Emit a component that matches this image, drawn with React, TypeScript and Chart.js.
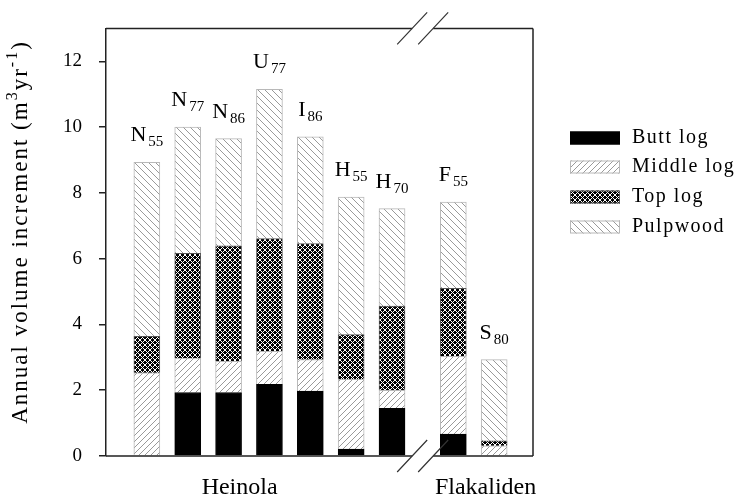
import { useEffect, useRef } from 'react';
import { Chart, registerables } from 'chart.js';
Chart.register(...registerables);

const siteLetters = ['N', 'N', 'N', 'U', 'I', 'H', 'H', 'F', 'S'];
const siteSubscripts = ['55', '77', '86', '77', '86', '55', '70', '55', '80'];
const sitePositions = [1, 2, 3, 4, 5, 6, 7, 8.5, 9.5];
const buttLog = [0, 1.93, 1.93, 2.18, 1.97, 0.21, 1.45, 0.67, 0];
const middleLog = [2.53, 1.05, 0.95, 1.0, 0.96, 2.12, 0.55, 2.36, 0.31];
const topLog = [1.11, 3.18, 3.51, 3.43, 3.53, 1.36, 2.56, 2.07, 0.15];
const pulpwood = [5.29, 3.84, 3.26, 4.54, 3.24, 4.18, 2.96, 2.62, 2.47];
const seriesNames = ['Butt log', 'Middle log', 'Top log', 'Pulpwood'];
const yTicks = [0, 2, 4, 6, 8, 10, 12];
const regionNames = ['Heinola', 'Flakaliden'];
const regionCenters = [3.27, 9.29];
const axisBreakAt = 7.75;

const SERIF = "'Liberation Serif', 'Times New Roman', serif";

function makeTile(size: number, draw: (g: CanvasRenderingContext2D) => void) {
  const c = document.createElement('canvas');
  c.width = size;
  c.height = size;
  const g = c.getContext('2d')!;
  draw(g);
  return c;
}

function hatchTile(dir: 1 | -1, color: string, size: number) {
  return makeTile(size, (g) => {
    g.fillStyle = '#fff';
    g.fillRect(0, 0, size, size);
    g.strokeStyle = color;
    g.lineWidth = 1;
    g.beginPath();
    if (dir === 1) {
      g.moveTo(-1, size + 1); g.lineTo(size + 1, -1);
      g.moveTo(-1, 1); g.lineTo(1, -1);
      g.moveTo(size - 1, size + 1); g.lineTo(size + 1, size - 1);
    } else {
      g.moveTo(-1, -1); g.lineTo(size + 1, size + 1);
      g.moveTo(size - 1, -1); g.lineTo(size + 1, 1);
      g.moveTo(-1, size - 1); g.lineTo(1, size + 1);
    }
    g.stroke();
  });
}

function latticeTile(size: number) {
  return makeTile(size, (g) => {
    g.fillStyle = '#000';
    g.fillRect(0, 0, size, size);
    g.strokeStyle = '#fff';
    g.lineWidth = 1;
    g.beginPath();
    g.moveTo(-1, size + 1); g.lineTo(size + 1, -1);
    g.moveTo(-1, -1); g.lineTo(size + 1, size + 1);
    g.stroke();
  });
}

export default function App() {
  const ref = useRef<HTMLCanvasElement | null>(null);

  useEffect(() => {
    const canvas = ref.current!;
    const ctx0 = canvas.getContext('2d')!;
    const fills: (string | CanvasPattern)[] = [
      '#000',
      ctx0.createPattern(hatchTile(1, '#9a9a9a', 6), 'repeat')!,
      ctx0.createPattern(latticeTile(5), 'repeat')!,
      ctx0.createPattern(hatchTile(-1, '#9a9a9a', 7), 'repeat')!,
    ];
    const borders = ['#000', '#b8b8b8', '#555', '#b8b8b8'];
    const series = [buttLog, middleLog, topLog, pulpwood];

    const decor = {
      id: 'decor',
      afterDraw(chart: any) {
        const ctx: any = chart.ctx;
        const { left, right, top, bottom } = chart.chartArea;
        const xs = chart.scales.x;
        const ys = chart.scales.y;
        const bx = xs.getPixelForValue(axisBreakAt);
        const gapHalf = 10.5;
        ctx.save();
        ctx.strokeStyle = '#222';
        ctx.lineWidth = 1.5;
        // top frame with break
        ctx.beginPath();
        ctx.moveTo(left, top); ctx.lineTo(bx - gapHalf, top);
        ctx.moveTo(bx + gapHalf, top); ctx.lineTo(right, top);
        // right frame
        ctx.moveTo(right, top); ctx.lineTo(right, bottom);
        // bottom axis with break
        ctx.moveTo(left, bottom); ctx.lineTo(bx - gapHalf, bottom);
        ctx.moveTo(bx + gapHalf, bottom); ctx.lineTo(right, bottom);
        ctx.stroke();
        // break slashes
        ctx.lineWidth = 1.2;
        ctx.strokeStyle = '#333';
        ctx.beginPath();
        [top, bottom].forEach((y: number) => {
          [-gapHalf, gapHalf].forEach((dx) => {
            const cx = bx + dx;
            ctx.moveTo(cx - 15, y + 16);
            ctx.lineTo(cx + 15, y - 16);
          });
        });
        ctx.stroke();

        // bar labels with subscripts
        ctx.fillStyle = '#000';
        ctx.textBaseline = 'alphabetic';
        sitePositions.forEach((p, i) => {
          const total = buttLog[i] + middleLog[i] + topLog[i] + pulpwood[i];
          const cx = xs.getPixelForValue(p);
          const y = ys.getPixelForValue(total) - 21;
          ctx.font = `22px ${SERIF}`;
          const w1 = ctx.measureText(siteLetters[i]).width;
          ctx.font = `15px ${SERIF}`;
          const w2 = ctx.measureText(siteSubscripts[i]).width;
          const start = cx - (w1 + 2 + w2) / 2;
          ctx.textAlign = 'left';
          ctx.font = `22px ${SERIF}`;
          ctx.fillText(siteLetters[i], start, y);
          ctx.font = `15px ${SERIF}`;
          ctx.fillText(siteSubscripts[i], start + w1 + 2, y + 5);
        });

        // region labels
        ctx.font = `24px ${SERIF}`;
        ctx.textAlign = 'center';
        regionNames.forEach((n, i) => {
          ctx.fillText(n, xs.getPixelForValue(regionCenters[i]), bottom + 38);
        });

        // y title with superscripts
        const runs: [string, boolean][] = [
          ['Annual volume increment (m', false],
          ['3', true],
          ['yr', false],
          ['-1', true],
          [')', false],
        ];
        const mainFont = `23px ${SERIF}`;
        const supFont = `16px ${SERIF}`;
        ctx.letterSpacing = '2px';
        let tw = 0;
        runs.forEach(([t, s]) => {
          ctx.font = s ? supFont : mainFont;
          tw += ctx.measureText(t).width;
        });
        ctx.translate(27, 232);
        ctx.rotate(-Math.PI / 2);
        ctx.textAlign = 'left';
        let x = -tw / 2;
        runs.forEach(([t, s]) => {
          ctx.font = s ? supFont : mainFont;
          ctx.fillText(t, x, s ? -10 : 0);
          x += ctx.measureText(t).width;
        });
        ctx.setTransform(1, 0, 0, 1, 0, 0);

        // legend
        const lx = 570, lw = 50, lh = 13;
        const rows = [138, 167, 197, 227];
        ctx.letterSpacing = '1.5px';
        seriesNames.forEach((name, i) => {
          const cy = rows[i];
          ctx.fillStyle = fills[i];
          ctx.fillRect(lx, cy - lh / 2, lw, lh);
          ctx.strokeStyle = borders[i];
          ctx.lineWidth = 1;
          ctx.strokeRect(lx + 0.5, cy - lh / 2 + 0.5, lw - 1, lh - 1);
          ctx.fillStyle = '#000';
          ctx.font = `20px ${SERIF}`;
          ctx.textAlign = 'left';
          ctx.textBaseline = 'middle';
          ctx.fillText(name, 632, cy);
        });
        ctx.letterSpacing = '0px';
        ctx.restore();
      },
    };

    const chart = new Chart(canvas, {
      type: 'bar',
      data: {
        datasets: series.map((vals, i) => ({
          label: seriesNames[i],
          data: vals.map((v, j) => ({ x: sitePositions[j], y: v })),
          backgroundColor: fills[i] as any,
          borderColor: borders[i],
          borderWidth: 1,
          barThickness: 26,
        })),
      },
      options: {
        animation: false,
        responsive: false,
        maintainAspectRatio: false,
        layout: { padding: { left: 0, top: 28, right: 204, bottom: 0 } },
        plugins: { legend: { display: false }, tooltip: { enabled: false } },
        scales: {
          x: {
            type: 'linear',
            min: 0,
            max: 10.45,
            offset: false,
            stacked: true,
            ticks: { display: false },
            grid: { display: false },
            border: { display: false },
            afterFit: (s: any) => { s.height = 41; },
          },
          y: {
            type: 'linear',
            min: 0,
            max: 13,
            stacked: true,
            afterBuildTicks: (s: any) => { s.ticks = yTicks.map((v) => ({ value: v })); },
            afterFit: (s: any) => { s.width = 106; },
            ticks: {
              padding: 17,
              color: '#000',
              font: { family: SERIF, size: 19 },
            },
            grid: { drawOnChartArea: false, drawTicks: true, tickLength: 7, color: '#222', lineWidth: 1.5 },
            border: { display: true, color: '#222', width: 1.5 },
          },
        },
      },
      plugins: [decor],
    });
    return () => chart.destroy();
  }, []);

  return (
    <div style={{ position: 'absolute', left: 0, top: 0, width: 737, height: 497, background: '#fff' }}>
      <canvas ref={ref} width={737} height={497} style={{ display: 'block', width: 737, height: 497 }} />
    </div>
  );
}
